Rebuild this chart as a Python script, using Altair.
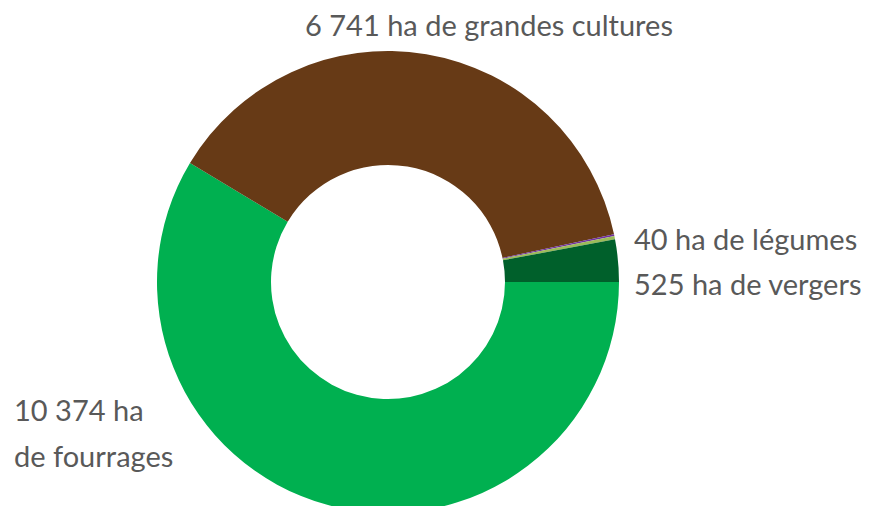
import altair as alt
import pandas as pd
import math

categories = ["fourrages", "grandes cultures", "autres", "légumes", "vergers"]
values = [10374, 6741, 20, 40, 525]
colors = ["#00B050", "#673A16", "#7030A0", "#9BBB59", "#00602B"]
order = [1, 2, 3, 4, 5]

label_texts = ["6 741 ha de grandes cultures", "40 ha de légumes", "525 ha de vergers", "10 374 ha", "de fourrages"]

df = pd.DataFrame({"cat": categories, "val": values, "ord": order})

arc = alt.Chart(df).mark_arc(innerRadius=117, outerRadius=231, stroke=None).encode(
    theta=alt.Theta("val:Q", stack=True, scale=alt.Scale(range=[math.pi / 2, math.pi / 2 + 2 * math.pi])),
    order=alt.Order("ord:Q"),
    color=alt.Color("cat:N", scale=alt.Scale(domain=categories, range=colors), legend=None),
    x=alt.value(380),
    y=alt.value(274),
)

lab = pd.DataFrame({
    "t": label_texts,
    "px": [481, 626, 626, 6, 6],
    "py": [19, 233, 278, 404, 450],
    "al": ["center", "left", "left", "left", "left"],
})

def tlayer(i):
    return alt.Chart(lab.iloc[[i]]).mark_text(
        font="Lato", fontSize=29, color="#595959", align=lab["al"][i], baseline="middle"
    ).encode(text="t:N", x=alt.value(int(lab["px"][i])), y=alt.value(int(lab["py"][i])))

chart = alt.layer(arc, *[tlayer(i) for i in range(len(lab))]).properties(
    width=853, height=498, autosize=alt.AutoSizeParams(type="none"), padding=0
).configure_view(stroke=None)

chart.save("out.html", embed_options={"renderer": "svg", "actions": False})
